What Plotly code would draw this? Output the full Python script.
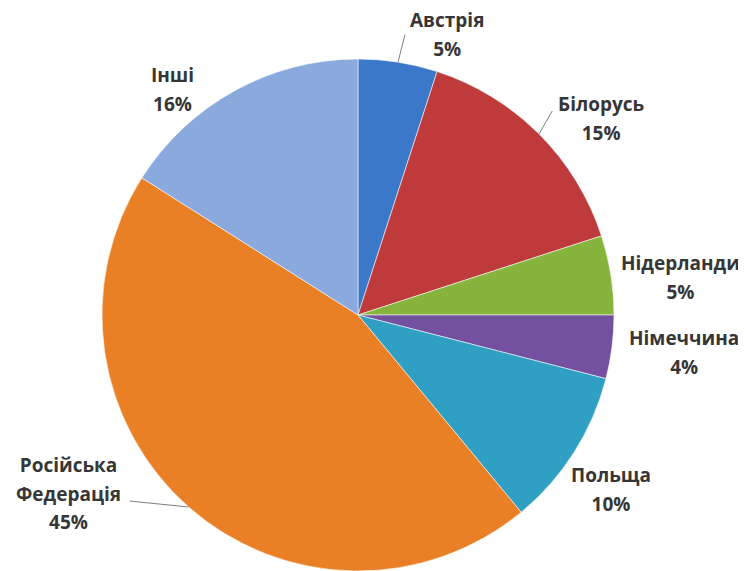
import math
import plotly.graph_objects as go

# ---- data ----
countries = ["Австрія", "Білорусь", "Нідерланди", "Німеччина", "Польща", "Російська<br>Федерація", "Інші"]
shares = [5, 15, 5, 4, 10, 45, 16]

# ---- styles / layout ----
colors = ["#3b78c9", "#bf3a3a", "#87b43c", "#7450a1", "#2fa0c4", "#ea8026", "#8aa9dc"]
W, H = 738, 571          # page body adds an 8px margin
dom_x = [94 / W, 606 / W]
dom_y = [8 / H, 520 / H]
# label placement: (angular shift from slice middle in degrees, radius factor)
label_place = [(8.6, 1.15), (6.0, 1.22), (2.3, 1.27), (-0.7, 1.28), (2.2, 1.20), (16.9, 1.33), (-10.7, 1.14)]
# leader lines: None or (angular shift of end point, radius factor of end point)
leader = [(0.5, 1.11), (-1.4, 1.10), None, None, None, (9.4, 1.15), None]

fig = go.Figure(go.Pie(
    labels=countries,
    values=shares,
    sort=False,
    direction="clockwise",
    rotation=0,
    marker=dict(colors=colors, line=dict(color="rgba(255,255,255,0.55)", width=1)),
    textinfo="none",
    hoverinfo="label+percent",
    domain=dict(x=dom_x, y=dom_y),
    showlegend=False,
))

# geometry of the pie in pixels
wpx = (dom_x[1] - dom_x[0]) * W
hpx = (dom_y[1] - dom_y[0]) * H
R = min(wpx, hpx) / 2
cx = (dom_x[0] + dom_x[1]) / 2 * W
cy = H - (dom_y[0] + dom_y[1]) / 2 * H


def to_paper(ang_deg, rf):
    a = math.radians(ang_deg)
    px = cx + R * rf * math.sin(a)
    py = cy - R * rf * math.cos(a)
    return px / W, 1 - py / H


total = sum(shares)
cum = 0
annotations = []
shapes = []
for i, (name, v) in enumerate(zip(countries, shares)):
    mid = (cum + v / 2) / total * 360
    cum += v
    pct = round(v / total * 100)
    shift, rf = label_place[i]
    x, y = to_paper(mid + shift, rf)
    lines = name.split("<br>") + [f"{pct}%"]
    text = "<br>".join(f"<span style='font-size:19px'>{t}</span>" for t in lines)
    annotations.append(dict(
        x=x, y=y, xref="paper", yref="paper", text=text, showarrow=False,
        xanchor="center", yanchor="middle", align="center",
        font=dict(family="Open Sans", size=22, color="#363636", weight="bold"),
    ))
    if leader[i] is not None:
        x0, y0 = to_paper(mid, 1.0)
        x1, y1 = to_paper(mid + leader[i][0], leader[i][1])
        shapes.append(dict(type="line", xref="paper", yref="paper",
                           x0=x0, y0=y0, x1=x1, y1=y1,
                           line=dict(color="#7f7f7f", width=1)))

fig.update_layout(
    width=W, height=H,
    margin=dict(l=0, r=0, t=0, b=0),
    paper_bgcolor="white",
    plot_bgcolor="white",
    annotations=annotations,
    shapes=shapes,
)

fig.write_html("out.html")
